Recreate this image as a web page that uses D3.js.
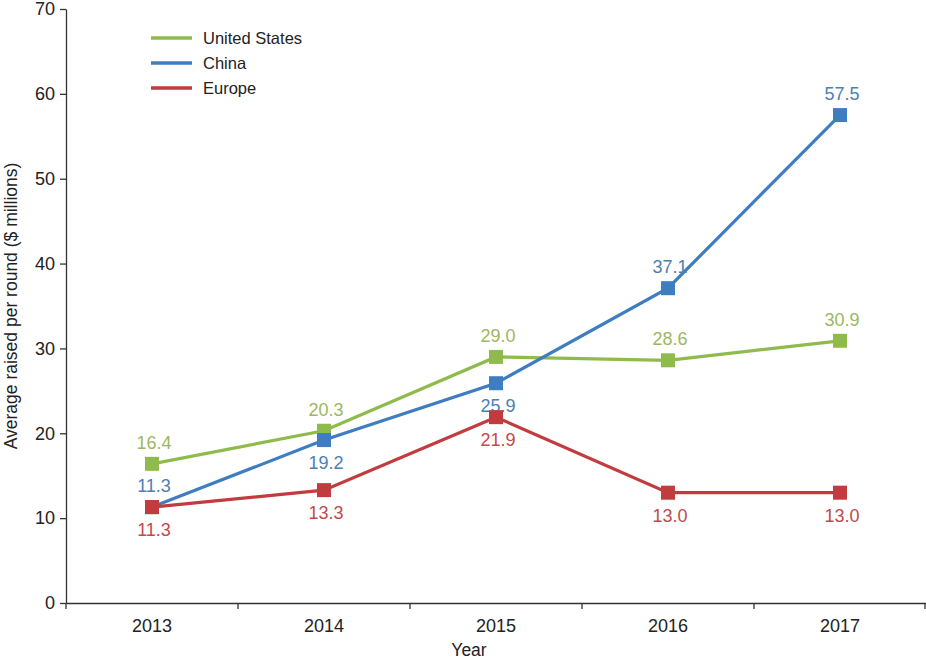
<!DOCTYPE html>
<html>
<head>
<meta charset="utf-8">
<script src="https://cdn.jsdelivr.net/npm/d3@7"></script>
<style>
  body { margin: 0; background: #fff; }
  text { font-family: "Liberation Sans", Arial, sans-serif; }
</style>
</head>
<body>
<div id="chart"></div>
<script>
let years = ['2013', '2014', '2015', '2016', '2017'];
let usValues = [16.4, 20.3, 29.0, 28.6, 30.9];
let chinaValues = [11.3, 19.2, 25.9, 37.1, 57.5];
let europeValues = [11.3, 13.3, 21.9, 13.0, 13.0];
let yTicks = [0, 10, 20, 30, 40, 50, 60, 70];
// which side each value label sits on
let chinaLabelPos = ['above', 'below', 'below', 'above', 'above'];

let series = [
  { name: 'United States', values: usValues, color: '#8fbb4c', label: '#9cb763', pos: ['above','above','above','above','above'] },
  { name: 'China', values: chinaValues, color: '#3f7dc1', label: '#4c80b4', pos: chinaLabelPos },
  { name: 'Europe', values: europeValues, color: '#c23b3e', label: '#c14a4d', pos: ['below','below','below','below','below'] }
];

let width = 926, height = 660;
let margin = { top: 9, right: 0, bottom: 57, left: 66 };

let svg = d3.select('#chart').append('svg')
  .attr('width', width)
  .attr('height', height);

let x = d3.scaleBand().domain(years).range([margin.left, width - margin.right]);
let y = d3.scaleLinear().domain([0, 70]).range([height - margin.bottom, margin.top]);

// y axis
let yAxis = svg.append('g')
  .attr('transform', 'translate(' + margin.left + ',0)')
  .call(d3.axisLeft(y).tickValues(yTicks).tickSize(6).tickSizeOuter(0).tickPadding(5));
yAxis.select('.domain').attr('stroke', '#333').attr('stroke-width', 1.3);
yAxis.selectAll('.tick line').attr('stroke', '#333').attr('stroke-width', 1.3);
yAxis.selectAll('.tick text').style('font-size', '18px').attr('fill', '#222');

// x axis, ticks at band edges
let xAxis = svg.append('g')
  .attr('transform', 'translate(0,' + y(0) + ')')
  .call(d3.axisBottom(x).tickSize(0).tickPadding(16));
xAxis.select('.domain').attr('stroke', '#333').attr('stroke-width', 1.3);
xAxis.selectAll('.tick text').style('font-size', '18px').attr('fill', '#222');
let edges = years.map(d => x(d)).concat([x(years[years.length - 1]) + x.bandwidth()]);
xAxis.selectAll('.edge').data(edges).enter().append('line')
  .attr('x1', d => Math.min(d, width - 1)).attr('x2', d => Math.min(d, width - 1))
  .attr('y1', 0).attr('y2', 6)
  .attr('stroke', '#333').attr('stroke-width', 1.3);

// axis titles
svg.append('text')
  .attr('transform', 'translate(17,' + ((y(0) + y(70)) / 2) + ') rotate(-90)')
  .attr('text-anchor', 'middle')
  .style('font-size', '17.5px')
  .attr('fill', '#222')
  .text('Average raised per round ($ millions)');

svg.append('text')
  .attr('x', 469)
  .attr('y', 656)
  .attr('text-anchor', 'middle')
  .style('font-size', '17.5px')
  .attr('fill', '#222')
  .text('Year');

let cx = d => x(d) + x.bandwidth() / 2;
let line = d3.line().x(d => cx(d.year)).y(d => y(d.value));
let msize = 14;

series.forEach(function (s) {
  let pts = years.map((yr, i) => ({ year: yr, value: s.values[i], pos: s.pos[i] }));
  svg.append('path')
    .datum(pts)
    .attr('d', line)
    .attr('fill', 'none')
    .attr('stroke', s.color)
    .attr('stroke-width', 3.2);
  svg.selectAll('.m-' + s.name.replace(' ', ''))
    .data(pts).enter().append('rect')
    .attr('x', d => cx(d.year) - msize / 2)
    .attr('y', d => y(d.value) - msize / 2)
    .attr('width', msize)
    .attr('height', msize)
    .attr('fill', s.color);
  svg.selectAll('.l-' + s.name.replace(' ', ''))
    .data(pts).enter().append('text')
    .attr('x', d => cx(d.year) + 2)
    .attr('y', d => d.pos === 'above' ? y(d.value) - 15 : y(d.value) + 29)
    .attr('text-anchor', 'middle')
    .style('font-size', '18px')
    .attr('fill', s.label)
    .text(d => d.value.toFixed(1));
});

// legend
let legend = svg.append('g');
series.forEach(function (s, i) {
  legend.append('line')
    .attr('x1', 151).attr('x2', 192)
    .attr('y1', 38 + i * 25).attr('y2', 38 + i * 25)
    .attr('stroke', s.color)
    .attr('stroke-width', 3.5);
  legend.append('text')
    .attr('x', 203)
    .attr('y', 38 + i * 25 + 6)
    .style('font-size', '16.5px')
    .attr('fill', '#222')
    .text(s.name);
});
</script>
</body>
</html>
